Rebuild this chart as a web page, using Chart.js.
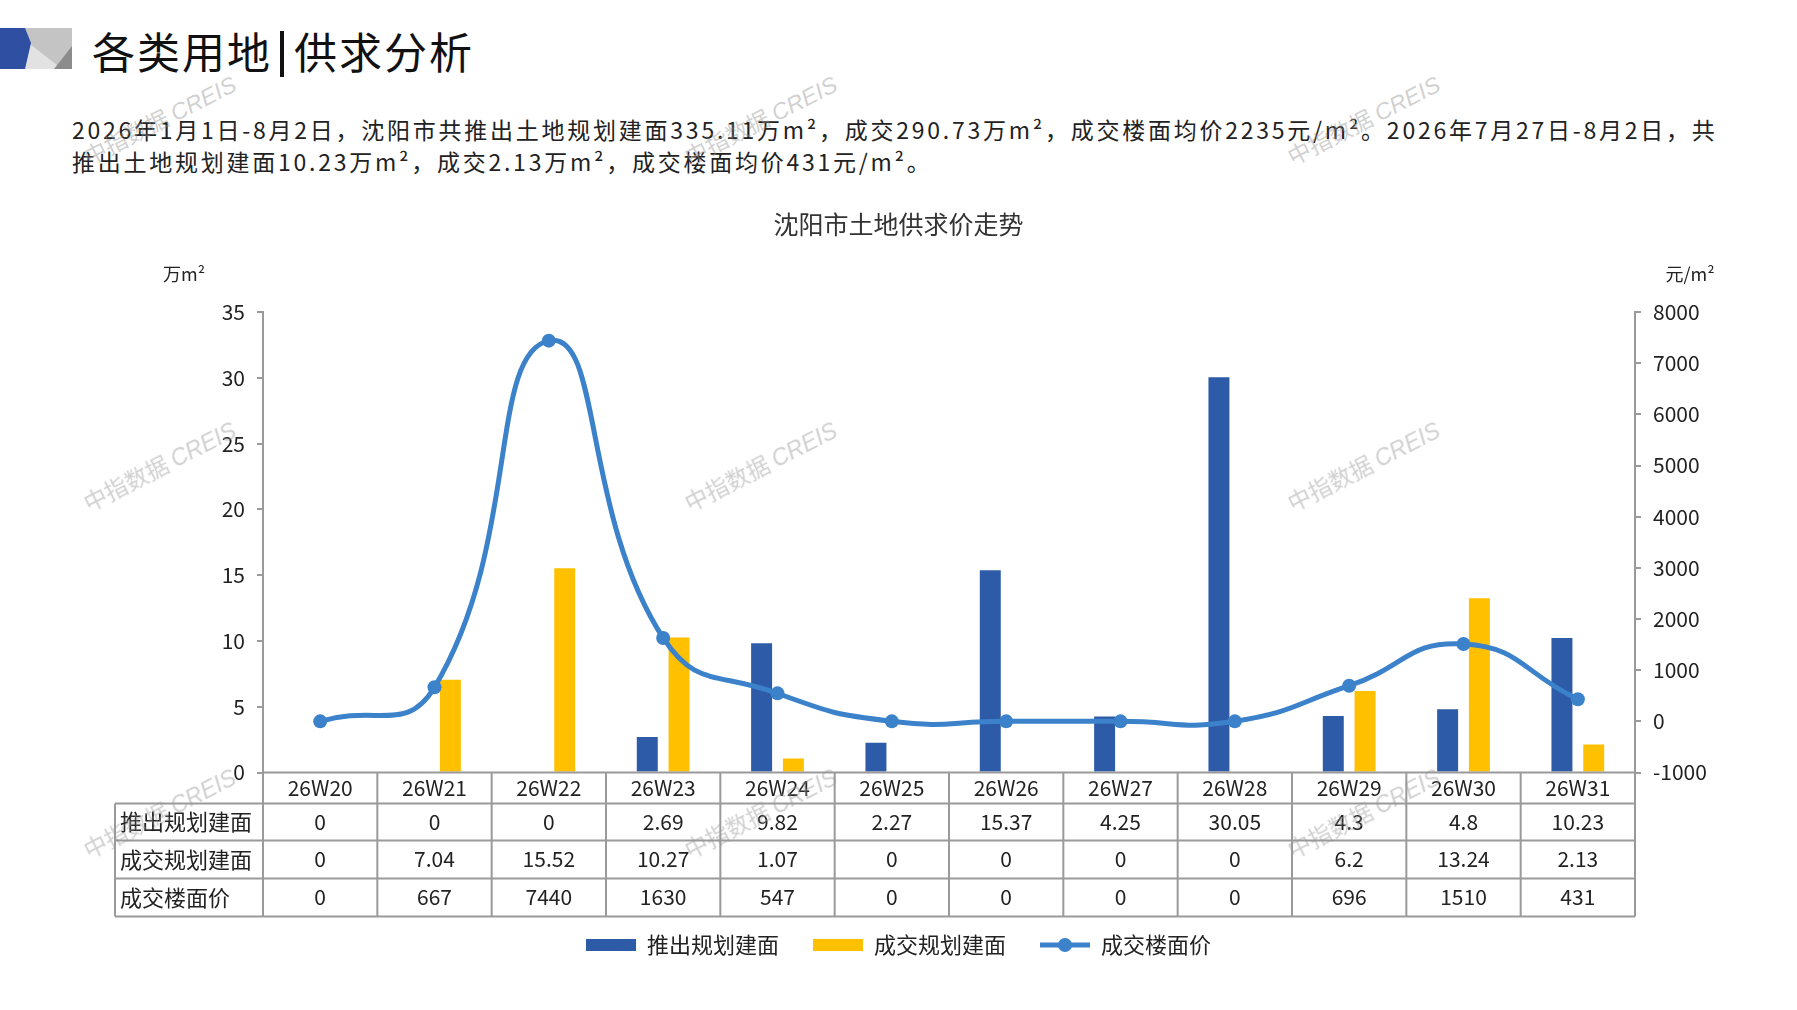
<!DOCTYPE html>
<html>
<head>
<meta charset="utf-8">
<script src="https://cdn.jsdelivr.net/npm/chart.js@4/dist/chart.umd.min.js"></script>
<style>
  body { margin: 0; width: 1797px; height: 1010px; background: #fff; position: relative; overflow: hidden;
         font-family: "Noto Sans CJK SC", "Noto Sans", sans-serif; color: #222; }
  #logo { position: absolute; left: 0; top: 28px; }
  #title { position: absolute; left: 92px; top: 21px; font-size: 43px; line-height: 58px; color: #111; letter-spacing: 2px; }
  #title .bar { display: inline-block; width: 4px; height: 46px; background: #111; vertical-align: -8px; margin: 0 10px 0 8px; }
  .para { position: absolute; left: 72px; font-size: 23px; line-height: 32px; color: #222; white-space: nowrap; letter-spacing: 2.75px; }
  #wrap { position: absolute; left: 0; top: 190px; width: 1797px; height: 820px; }
  .wm { position: absolute; font-family: "Noto Sans CJK SC", sans-serif; font-size: 23px; color: rgba(150,150,150,0.45);
        transform: translate(-50%, -50%) rotate(-27deg); white-space: nowrap; pointer-events: none; z-index: 5; }
  .wm i { font-family: "Liberation Sans", Arial, sans-serif; }
</style>
</head>
<body>
<svg id="logo" width="72" height="41" viewBox="0 0 72 41">
  <rect x="20" y="0" width="52" height="41" fill="#c4c4c4"/>
  <polygon points="30,16 62,41 24,41" fill="#e2e2e2"/>
  <polygon points="72,18 72,41 54,41" fill="#8c8c8c"/>
  <polygon points="0,0 25,0 31,15 25,41 0,41" fill="#2f4fa2"/>
</svg>
<div id="title">各类用地<span class="bar"></span>供求分析</div>
<div class="para" style="top:113px">2026年1月1日-8月2日，沈阳市共推出土地规划建面335.11万m²，成交290.73万m²，成交楼面均价2235元/m²。2026年7月27日-8月2日，共</div>
<div class="para" style="top:145px">推出土地规划建面10.23万m²，成交2.13万m²，成交楼面均价431元/m²。</div>

<div id="wrap"><canvas id="myChart"></canvas></div>

<script>
// data
const weeks = ['26W20', '26W21', '26W22', '26W23', '26W24', '26W25', '26W26', '26W27', '26W28', '26W29', '26W30', '26W31'];
const supplyArea = [0, 0, 0, 2.69, 9.82, 2.27, 15.37, 4.25, 30.05, 4.3, 4.8, 10.23];
const dealArea = [0, 7.04, 15.52, 10.27, 1.07, 0, 0, 0, 0, 6.2, 13.24, 2.13];
const dealPrice = [0, 667, 7440, 1630, 547, 0, 0, 0, 0, 696, 1510, 431];
const seriesNames = ['推出规划建面', '成交规划建面', '成交楼面价'];

const BLUE = '#2e5ba8';
const YELLOW = '#ffc000';
const LINE = '#3b82cb';
const GREY = '#9a9a9a';
const CJK = '"Noto Sans CJK SC", sans-serif';
const NUM = '"Liberation Sans Narrow", "Noto Sans CJK SC", sans-serif';

// watermarks
[[159, 119], [760, 119], [1363, 119], [159, 465], [760, 465], [1363, 465], [159, 812], [760, 812], [1363, 812]].forEach(p => {
  const d = document.createElement('div');
  d.className = 'wm';
  d.style.left = p[0] + 'px';
  d.style.top = p[1] + 'px';
  d.innerHTML = '中指数据 <i>CREIS</i>';
  document.body.appendChild(d);
});

// legend icons
function icon(kind, color) {
  const c = document.createElement('canvas');
  c.width = 50; c.height = 16;
  const g = c.getContext('2d');
  g.fillStyle = color;
  if (kind === 'bar') {
    g.fillRect(0, 2, 50, 12);
  } else {
    g.fillRect(0, 5.5, 50, 5);
    g.beginPath(); g.arc(25, 8, 7, 0, Math.PI * 2); g.fill();
  }
  return c;
}
// legend order: bars first, then line (dataset 0)
const legendOrder = [1, 2, 0];
const legendIcons = { 1: icon('bar', BLUE), 2: icon('bar', YELLOW), 0: icon('line', LINE) };

// table under the plot, drawn from the same arrays
const tablePlugin = {
  id: 'dataTable',
  afterDraw(chart) {
    const ctx = chart.ctx;
    const ca = chart.chartArea;
    const x = chart.scales.x;
    const n = weeks.length;
    const w = (ca.right - ca.left) / n;
    const labelLeft = 115;
    const rows = [31, 37, 38, 38];
    const ys = [ca.bottom];
    rows.forEach(h => ys.push(ys[ys.length - 1] + h));

    ctx.save();
    ctx.strokeStyle = GREY;
    ctx.lineWidth = 2;
    ctx.beginPath();
    ctx.moveTo(ca.left, ys[0]); ctx.lineTo(ca.right, ys[0]);
    for (let r = 1; r < ys.length; r++) {
      ctx.moveTo(labelLeft, ys[r]); ctx.lineTo(ca.right, ys[r]);
    }
    for (let i = 0; i <= n; i++) {
      const xx = ca.left + i * w;
      ctx.moveTo(xx, ys[0]); ctx.lineTo(xx, ys[4]);
    }
    ctx.moveTo(labelLeft, ys[1]); ctx.lineTo(labelLeft, ys[4]);
    ctx.stroke();

    ctx.fillStyle = '#222';
    ctx.textBaseline = 'middle';
    ctx.textAlign = 'center';
    ctx.font = '21px ' + NUM;
    const rowsData = [weeks, supplyArea, dealArea, dealPrice];
    rowsData.forEach((arr, r) => {
      const cy = (ys[r] + ys[r + 1]) / 2;
      arr.forEach((v, i) => ctx.fillText(String(v), x.getPixelForValue(i), cy));
    });
    ctx.textAlign = 'left';
    ctx.font = '22px ' + CJK;
    seriesNames.forEach((s, r) => ctx.fillText(s, labelLeft + 5, (ys[r + 1] + ys[r + 2]) / 2));

    // axis units
    ctx.textAlign = 'center';
    ctx.font = '18px ' + CJK;
    ctx.fillText('万m²', ca.left - 79, ca.top - 38);
    ctx.fillText('元/m²', ca.right + 55, ca.top - 38);
    ctx.restore();
  }
};

const yAxisStyle = {
  grid: { display: true, drawOnChartArea: false, drawTicks: true, tickLength: 6, color: GREY, lineWidth: 2 },
  border: { color: GREY, width: 2 },
};

new Chart(document.getElementById('myChart'), {
  data: {
    labels: weeks,
    datasets: [
      { type: 'line', label: seriesNames[2], data: dealPrice, yAxisID: 'y1', order: 0,
        borderColor: LINE, backgroundColor: LINE, borderWidth: 5, tension: 0.5,
        pointRadius: 7, pointBackgroundColor: LINE, pointBorderWidth: 0 },
      { type: 'bar', label: seriesNames[0], data: supplyArea, yAxisID: 'y', order: 1,
        backgroundColor: BLUE, categoryPercentage: 0.556, barPercentage: 0.66 },
      { type: 'bar', label: seriesNames[1], data: dealArea, yAxisID: 'y', order: 1,
        backgroundColor: YELLOW, categoryPercentage: 0.556, barPercentage: 0.66 },
    ]
  },
  options: {
    responsive: true,
    maintainAspectRatio: false,
    animation: false,
    layout: { padding: { left: 0, right: 0, top: 0, bottom: 44 } },
    plugins: {
      title: {
        display: true, text: '沈阳市土地供求价走势', color: '#333',
        font: { family: CJK, size: 25, weight: 'normal' },
        padding: { top: 19, bottom: 73 }
      },
      legend: {
        position: 'bottom',
        labels: {
          usePointStyle: true, pointStyleWidth: 50, padding: 34, color: '#222',
          font: { family: CJK, size: 22 },
          generateLabels: () => legendOrder.map(i => ({
            text: seriesNames[i === 0 ? 2 : i - 1],
            datasetIndex: i, pointStyle: legendIcons[i],
            fontColor: '#222', hidden: false, lineWidth: 0, strokeStyle: 'transparent', fillStyle: 'transparent'
          }))
        }
      },
      tooltip: { enabled: false }
    },
    scales: {
      x: {
        type: 'category', offset: true,
        grid: { display: false }, border: { display: false },
        ticks: { display: false },
        afterFit: s => { s.height = 127.5; }
      },
      y: Object.assign({
        position: 'left', min: 0, max: 35,
        ticks: { stepSize: 5, color: '#222', padding: 12, font: { family: NUM, size: 21 } },
        afterFit: s => { s.width = 263; }
      }, yAxisStyle),
      y1: Object.assign({
        position: 'right', min: -1000, max: 8000,
        ticks: { stepSize: 1000, color: '#222', padding: 12, font: { family: NUM, size: 21 },
                 callback: v => String(v) },
        afterFit: s => { s.width = 162; }
      }, yAxisStyle)
    }
  },
  plugins: [tablePlugin]
});
</script>
</body>
</html>
